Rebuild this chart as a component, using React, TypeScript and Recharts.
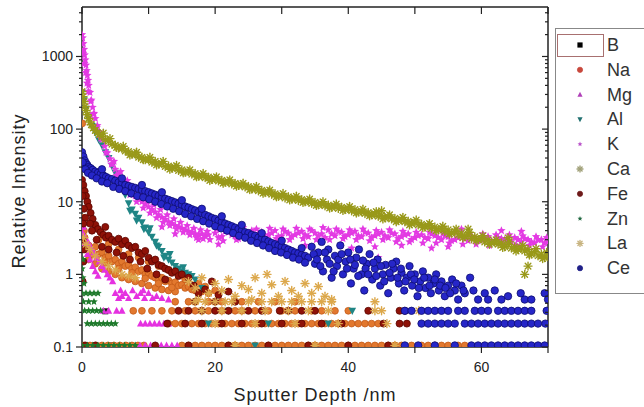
import { ScatterChart, Scatter, XAxis, YAxis } from 'recharts';

type Pt = [number, number];

const W = 644;
const H = 407;
const FONT = '"Liberation Sans", Arial, Helvetica, sans-serif';
const INK = '#222';

// axis ticks
const xTicks = [0, 10, 20, 30, 40, 50, 60, 70];
const xLabelled = [0, 20, 40, 60];
const yDecades = [0.1, 1, 10, 100, 1000];
const yMinor = [
  0.2, 0.3, 0.4, 0.5, 0.6, 0.7, 0.8, 0.9,
  2, 3, 4, 5, 6, 7, 8, 9,
  20, 30, 40, 50, 60, 70, 80, 90,
  200, 300, 400, 500, 600, 700, 800, 900,
  2000, 3000, 4000,
];

// detection floor levels seen as horizontal rows of points
const LOW1 = 0.105;
const LOW2 = 0.21;
const LOW3 = 0.315;
const LOW4 = 0.42;

// ---- values: [depth nm, relative intensity] ----
const boron: Pt[] = [[3.5, 0.31], [4.2, 0.105]];

const sodium: Pt[] = [
  [0.05, 120], [0.1, 40], [0.15, 15], [0.2, 6], [0.3, 4], [0.4, 3.2],
  [0.5, 2.8], [1, 2.5], [1.5, 2.2], [2, 2.4], [2.5, 1.9], [3, 2.0], [3.5, 1.7], [4, 1.8],
  [4.5, 1.5], [5, 1.6], [5.5, 1.4], [6, 1.5], [6.5, 1.3], [7, 1.35], [7.5, 1.2], [8, 1.25],
  [8.5, 1.1], [9, 1.15], [9.5, 1.0], [10, 1.05], [10.5, 0.95], [11, 0.9], [11.5, 0.85],
  [12, 0.9], [12.5, 0.8], [13, 0.82], [13.5, 0.75], [14, 0.78], [14.5, 0.7], [15, 0.72],
  [15.5, 0.65], [16, 0.68], [16.5, 0.62], [17, 0.6], [18, 0.58], [19, 0.55], [20, 0.6],
  [1, 1.6], [2, 1.4], [3, 1.2], [4, 1.1], [5, 1.0], [6, 0.9], [7, 0.85], [8, 0.8], [9, 0.75],
  [10, 0.7], [11, 0.65], [12, 0.62], [13, 0.6], [14, 0.58],
  [2.5, 3.0], [4, 2.6], [5.5, 2.2], [7, 1.9], [8.5, 1.7], [10, 1.5], [11.5, 1.3], [13, 1.15],
  [14.5, 1.05], [16, 0.95],
  [1.5, 1.9], [3.5, 1.45], [5.5, 1.2], [7.5, 1.05], [9.5, 0.88], [11.5, 0.75], [13.5, 0.66],
  [15.5, 0.85], [17.5, 0.75], [18.5, 0.68],
];
const sodiumLow1 = [0.3, 1.2, 2.1, 3, 3.9, 4.8, 5.7, 6.6, 7.5, 8.4, 9.3, 15, 16, 17, 18, 19, 20, 21, 22, 23, 24, 25, 26, 27, 28, 29, 30, 31, 32, 33, 34, 35, 36, 37, 38, 39, 40, 41, 42, 43, 44, 45, 46, 47, 48, 49.5, 51, 52, 53, 54, 55, 56.5, 57.5];
const sodiumLow2 = [13, 14, 15, 16.5, 17.5, 18.5, 19.5, 20.5, 21.5, 22.5, 23.5, 24.5, 25.5, 26.5, 27.5, 28.5, 29.5, 30.5, 31.5, 32.5, 33.5, 34.5, 35.5, 36.5, 37.5, 38.5, 39.5, 40.5, 41.5, 42.5, 43.5, 44.5];
const sodiumLow3 = [7.7, 9, 10.5, 12, 13.5, 15.5, 17, 19, 21, 23, 24, 26, 28, 30, 32, 34.5, 36, 38, 40];
const sodiumLow4 = [14, 16, 19, 21, 24, 26.5, 29, 32];

const magnesium: Pt[] = [
  [0.1, 5.5], [0.2, 4.5], [0, 3.8], [0.3, 3.4], [0.6, 3.0], [1, 2.7], [1.4, 2.3], [1.8, 2.0],
  [2.2, 1.7], [2.6, 1.5], [3, 1.3], [3.4, 1.15], [3.8, 1.0], [4.2, 0.9], [4.6, 0.8],
  [0.2, 2.6], [0.5, 2.2], [0.8, 1.9], [1.2, 1.6], [1.6, 1.3], [2.0, 1.1], [2.4, 0.95],
  [5, 0.55], [5.5, 0.47], [5.8, 0.6], [6, 0.5], [6.5, 0.55], [7, 0.47], [7.6, 0.6], [8.2, 0.5],
  [8.8, 0.55], [9.2, 0.6], [9.4, 0.47], [10, 0.55], [10.6, 0.47], [11.2, 0.5], [12, 0.47], [13, 0.45],
];
const magnesiumLow1 = [8.7, 9.5, 10.3, 11.1, 11.9, 12.7, 13.5, 14.3];
const magnesiumLow2 = [8.8, 9.5, 10.2, 10.9, 11.6, 12.3, 13];
const magnesiumLow3 = [3.2, 4, 5.2, 6];

const aluminium: Pt[] = [
  [0, 320], [0.3, 250], [0.6, 190], [1.0, 140], [1.5, 110], [2.0, 90], [2.5, 72], [3.0, 60],
  [3.5, 48], [4.0, 40], [4.5, 31], [5.0, 25], [5.5, 20], [6.0, 16], [6.5, 12.5], [7.0, 9.5],
  [7.5, 7.8], [8.0, 6.8], [8.5, 6.0], [9.0, 5.2], [9.5, 4.4],
  [10, 3.8], [10.5, 3.3], [11, 2.8], [11.5, 2.4], [12, 2.1], [12.5, 1.8], [13, 1.6], [13.5, 1.45],
  [14, 1.3], [14.5, 1.2], [15, 1.1], [15.5, 1.05], [16, 1.0], [16.5, 0.95],
  [7.2, 7.5], [8.2, 5.5], [9.3, 4.2], [10.2, 4.3], [11.2, 2.5], [12.3, 1.7], [13.2, 1.9],
  [14.2, 1.15], [15.2, 1.25], [16.2, 0.9], [17, 0.85], [18, 0.65],
];
const aluminiumLow1 = [26];
const aluminiumLow2 = [19, 28, 37];
const aluminiumLow3 = [22, 40.6];

const potassium: Pt[] = [
  [0, 2000], [0.1, 1800], [0.2, 1500], [0.3, 1250], [0.4, 1050], [0.5, 900], [0.6, 760],
  [0.7, 640], [0.8, 550], [0.9, 470], [1.0, 400], [1.2, 320], [1.4, 250], [1.6, 200],
  [1.8, 165], [2.0, 140], [2.3, 112], [2.6, 92], [3.0, 72], [3.4, 58], [3.8, 47], [4.2, 39],
  [4.6, 33], [5.0, 28], [5.5, 24], [6.0, 20], [6.5, 17.5], [7.0, 15], [7.5, 13.5], [8.0, 12],
  [8.5, 11], [9.0, 10], [9.5, 9.2], [10, 8.5], [10.5, 7.8], [11, 7.2], [11.5, 6.6], [12, 6.1],
  [12.5, 5.7], [13, 5.3], [13.5, 5.0], [14, 4.7], [14.5, 4.5], [15, 4.3], [15.5, 4.1], [16, 3.9],
  [16.5, 3.8], [17, 3.6], [17.5, 3.5], [18, 3.6], [18.5, 3.4], [19, 3.5],
  [0.15, 1100], [0.35, 800], [0.55, 600], [0.75, 430], [0.95, 330], [1.3, 240], [1.7, 160],
  [2.2, 105], [2.8, 75], [3.6, 48], [4.4, 33], [5.2, 23], [6.2, 16], [7.2, 12.5], [8.2, 10],
  [9.2, 8.2], [10.2, 7.0], [11.2, 6.0], [12.2, 5.2], [13.2, 4.7], [14.2, 4.2], [15.2, 3.8],
  [16.2, 3.5], [17.2, 3.2], [18.2, 3.1], [19.2, 3.0],
  [4.8, 36], [5.8, 26], [6.8, 19.5], [7.8, 15], [8.8, 12.5], [9.8, 10.5], [10.8, 9],
  [11.8, 7.8], [12.8, 6.6], [13.8, 5.8], [14.8, 5.2], [15.8, 4.7], [16.8, 4.3], [17.8, 4.1], [18.8, 3.9],
  [20, 3.7], [21, 3.3], [22, 3.8], [23, 3.4], [24, 3.9], [25, 3.5], [26, 3.3], [27, 3.8],
  [28, 3.5], [29, 4.0], [30, 3.4], [31, 3.7], [32, 3.5], [33, 3.9], [34, 3.3], [35, 3.7],
  [36, 3.6], [37, 4.1], [38, 3.4], [39, 3.8], [40, 3.5], [41, 3.9], [42, 3.3], [43, 3.7],
  [44, 3.4], [45, 3.8], [46, 3.2], [47, 3.6], [48, 3.3], [49, 3.6], [50, 3.2], [51, 3.5],
  [52, 3.1], [53, 3.4], [54, 3.0], [55, 3.3], [56, 3.0], [57, 3.4], [58, 2.9], [59, 3.2],
  [60, 3.0], [61, 3.3], [62, 2.8], [63, 3.1], [64, 2.9], [65, 3.2], [66, 2.8], [67, 3.0],
  [68, 2.7], [69, 3.0], [70, 2.8],
  [20.5, 3.2], [21.5, 3.9], [22.5, 3.5], [23.5, 3.1], [24.5, 3.6], [25.5, 4.0], [26.5, 3.6],
  [27.5, 3.2], [28.5, 3.7], [29.5, 3.3], [30.5, 3.9], [31.5, 3.3], [32.5, 3.7], [33.5, 3.5],
  [34.5, 4.0], [35.5, 3.4], [36.5, 3.2], [37.5, 3.6], [38.5, 3.9], [39.5, 3.3], [40.5, 3.7],
  [41.5, 3.4], [42.5, 3.8], [43.5, 3.2], [44.5, 3.6], [45.5, 3.4], [46.5, 3.7], [47.5, 3.1],
  [48.5, 3.5], [49.5, 3.0], [50.5, 3.4], [51.5, 3.2], [52.5, 3.6], [53.5, 3.2], [54.5, 3.4],
  [55.5, 2.9], [56.5, 3.2], [57.5, 3.1], [58.5, 3.3], [59.5, 2.9], [60.5, 3.1], [61.5, 2.9],
  [62.5, 3.2], [63.5, 3.0], [64.5, 2.8], [65.5, 3.0], [66.5, 3.1], [67.5, 2.8], [68.5, 3.0],
  [69.5, 2.7],
  [20.2, 4.2], [21.2, 2.9], [22.2, 4.3], [23.2, 3.0], [24.2, 4.4], [25.2, 3.1], [26.2, 4.2],
  [27.2, 3.0], [28.2, 4.3], [29.2, 3.1], [30.2, 4.2], [31.2, 3.0], [32.2, 4.3], [33.2, 3.1],
  [34.2, 4.2], [35.2, 3.0], [36.2, 4.4], [37.2, 3.0], [38.2, 4.2], [39.2, 3.1], [40.2, 4.1],
  [41.2, 3.0], [42.2, 4.2], [43.2, 2.9], [44.2, 4.0], [45.2, 3.0], [46.2, 4.1], [47.2, 2.8],
  [48.2, 3.9], [49.2, 2.8], [50.2, 3.8], [51.2, 2.7], [52.2, 3.8], [53.2, 2.7], [54.2, 3.7],
  [55.2, 2.7], [56.2, 3.8], [57.2, 2.6], [58.2, 3.6], [59.2, 2.6], [60.2, 3.6], [61.2, 2.5],
  [62.2, 3.5], [63.2, 2.6], [64.2, 3.5], [65.2, 2.5], [66.2, 3.4], [67.2, 2.5], [68.2, 3.3],
  [69.2, 2.4], [69.8, 3.2],
  [12, 4.5], [14, 3.6], [17.5, 3.0], [20.5, 2.6], [26, 2.9], [33.5, 2.5], [40.5, 2.3],
  [44, 2.4], [44.5, 1.7], [48, 2.5], [52.5, 2.3], [55, 2.4], [57, 4.2], [63, 4.0], [66, 3.9],
];

const calcium: Pt[] = [
  [0, 330], [0.15, 280], [0.3, 240], [0.45, 205], [0.6, 180], [0.8, 158], [1.0, 140], [1.2, 125],
  [1.4, 115], [1.7, 104], [2.0, 96], [2.3, 90], [2.6, 84], [3.0, 79], [3.5, 72], [4.0, 68],
  [4.5, 62], [5.0, 60], [5.5, 55], [6.0, 54], [6.5, 50], [7.0, 49], [7.5, 45], [8.0, 45],
  [8.5, 41], [9.0, 41], [9.5, 38], [10, 38], [10.5, 35], [11, 36], [11.5, 33], [12, 33.5],
  [12.5, 30.5], [13, 31], [13.5, 29], [14, 29.5], [14.5, 27], [15, 27.5], [15.5, 25.5], [16, 26],
  [16.5, 24], [17, 24.5], [17.5, 22.5], [18, 23], [18.5, 21.5], [19, 21.8], [19.5, 20.3],
  [20, 20.8], [20.5, 19.4], [21, 19.8], [21.5, 18.5], [22, 18.8], [22.5, 17.6], [23, 17.9],
  [23.5, 16.8], [24, 17], [24.5, 16], [25, 16.2], [25.5, 15], [26, 15.2], [26.5, 14.2],
  [27, 14.4], [27.5, 13.4], [28, 13.6], [28.5, 12.7], [29, 12.9], [29.5, 11.9], [30, 12.2],
  [30.5, 11.3], [31, 11.7], [31.5, 10.9], [32, 11.1], [32.5, 10.4], [33, 10.7], [33.5, 10],
  [34, 10.2], [34.5, 9.5], [35, 9.8], [35.5, 9.1], [36, 9.4], [36.5, 8.8], [37, 9.0],
  [37.5, 8.4], [38, 8.7], [38.5, 8.1], [39, 8.4], [39.5, 7.8], [40, 8.1], [40.5, 7.5],
  [41, 7.8], [41.5, 7.2], [42, 7.4], [42.5, 6.9], [43, 7.1], [43.5, 6.6], [44, 6.8],
  [44.5, 6.3], [45, 6.5], [45.5, 6.0], [46, 6.2], [46.5, 5.8], [47, 5.9], [47.5, 5.5],
  [48, 5.7], [48.5, 5.3], [49, 5.4], [49.5, 5.0], [50, 5.2], [50.5, 4.8], [51, 4.9],
  [51.5, 4.5], [52, 4.7], [52.5, 4.3], [53, 4.5], [53.5, 4.1], [54, 4.3], [54.5, 3.9],
  [55, 4.1], [55.5, 3.7], [56, 3.9], [56.5, 3.5], [57, 3.7], [57.5, 3.3], [58, 3.5],
  [58.5, 3.1], [59, 3.3], [59.5, 3.0], [60, 3.1], [60.5, 2.8], [61, 3.0], [61.5, 2.7],
  [62, 2.8], [62.5, 2.6], [63, 2.7], [63.5, 2.4], [64, 2.6], [64.5, 2.3], [65, 2.4],
  [65.5, 2.2], [66, 2.3], [66.5, 2.1], [67, 2.2], [67.5, 1.9], [68, 2.05], [68.5, 1.8],
  [69, 1.9], [69.5, 1.7], [70, 1.8],
  [3.2, 88], [4.2, 74], [5.2, 56], [6.2, 58], [7.2, 44], [8.2, 48], [9.2, 38], [10.2, 41],
  [11.2, 32], [12.2, 36], [13.2, 28], [14.2, 31.5], [15.2, 25], [16.2, 27.5], [17.2, 22],
  [18.2, 24.5], [19.2, 19.6], [20.2, 22], [21.2, 18], [22.2, 20], [23.2, 16.4], [24.2, 18],
  [25.2, 14.7], [26.2, 16.2], [27.2, 13.1], [28.2, 14.5], [29.2, 11.7], [30.2, 13],
  [31.2, 10.6], [32.2, 11.9], [33.2, 9.8], [34.2, 10.9], [35.2, 8.9], [36.2, 10],
  [37.2, 8.2], [38.2, 9.3], [39.2, 7.6], [40.2, 8.6], [41.2, 7.0], [42.2, 7.9], [43.2, 6.4],
  [44.2, 7.3], [45.2, 5.8], [46.2, 6.6], [47.2, 5.3], [48.2, 6.1], [49.2, 4.8], [50.2, 5.6],
  [51.2, 4.4], [52.2, 5.0], [53.2, 4.0], [54.2, 4.6], [55.2, 3.6], [56.2, 4.2], [57.2, 3.2],
  [58.2, 3.8], [59.2, 2.9], [60.2, 3.4], [61.2, 2.6], [62.2, 3.0], [63.2, 2.35], [64.2, 2.8],
  [65.2, 2.1], [66.2, 2.5], [67.2, 1.85], [68.2, 2.25], [69.2, 1.65], [69.8, 2.0],
  [66.5, 1.0], [67, 1.3], [64, 3.2], [58, 4.2], [45, 7.5],
];

const iron: Pt[] = [
  [0, 20], [0.2, 17], [0.4, 14], [0.6, 12], [0.8, 10], [1.0, 8.5], [1.3, 7], [1.6, 5.8],
  [2.0, 4.8], [2.4, 4.2], [2.8, 3.8], [3.2, 3.5], [3.6, 3.2], [4.0, 3.4], [4.5, 3.0], [5.0, 2.8],
  [5.5, 3.1], [6.0, 2.6], [6.5, 2.9], [7.0, 2.5], [7.5, 2.3], [8.0, 2.4], [8.5, 2.0], [9.0, 1.9],
  [9.5, 2.1], [10, 1.7], [10.5, 1.5], [11, 1.6], [11.5, 1.35], [12, 1.3], [12.5, 1.2], [13, 1.15],
  [13.5, 1.05], [14, 1.1], [14.5, 0.95], [15, 1.0], [16, 0.9],
  [0.1, 12], [0.3, 8], [0.5, 6], [1.5, 4], [2.2, 3], [3, 2.4], [4, 2.2], [5.2, 2.0], [6.2, 1.8],
  [7.2, 1.6], [3.5, 4.5], [1.2, 5], [8.8, 1.5], [9.8, 1.2], [11.2, 1.0], [12.5, 0.85],
  [0.1, 3], [0.2, 1.5], [0.1, 0.8], [0.3, 2.2], [0.2, 5],
  [16.8, 0.7], [17.5, 0.55], [18.5, 0.62], [19.5, 0.8], [20.5, 0.52], [22, 0.58],
];
const ironLow1 = [0.5, 2, 11, 16, 22, 28, 34, 40, 46];
const ironLow2 = [12.8, 15.5, 18, 21, 24, 27, 30, 33, 36, 39, 45.3, 47.7, 48.8];
const ironLow3 = [14.5, 16, 18, 20, 22, 25, 27, 29.7, 31, 33, 35, 43, 47.7, 48.5];
const ironLow4 = [17, 20, 23];

const zinc: Pt[] = [[0, 1.2], [0.1, 0.9], [0.3, 0.75], [0.15, 1.6], [0, 0.55], [0.6, 0.55], [1.2, 0.55], [1.8, 0.55], [2.4, 0.55]];
const zincLow1 = [0, 0.8, 1.6, 2.4, 3.2, 4.0, 4.8, 5.6, 6.4, 7.2, 8];
const zincLow2 = [0.8, 1.4, 2, 2.6, 3.2, 3.8, 4.4, 5];
const zincLow3 = [0.4, 1, 1.6, 2.2, 2.8];
const zincLow4 = [0.2, 1, 1.8];

const lanthanum: Pt[] = [
  [0.2, 3.2], [0.6, 2.6], [1.2, 2.2], [2, 1.8], [3, 1.5], [4, 1.3], [5, 1.15], [6, 1.0],
  [7, 0.95], [8, 0.9],
  [16, 0.8], [17, 0.65], [18, 0.9], [19, 0.55], [20, 0.75], [21, 0.6], [22, 0.85], [23, 0.5],
  [24, 0.7], [25, 0.62], [26, 0.9], [27, 0.55], [27.8, 1.0], [28.5, 0.72], [29.5, 0.5],
  [30.5, 0.8], [31.5, 0.6], [32.5, 0.5], [33.5, 0.75], [34.5, 0.55], [35.5, 0.68], [36.5, 0.5],
  [37.5, 0.45], [25.5, 0.45], [21.5, 0.42], [17.5, 0.45],
];
const lanthanumLow1 = [23, 35, 47];
const lanthanumLow2 = [20, 26, 32, 38.5, 45.8];
const lanthanumLow3 = [18, 21, 24, 27.5, 31, 34, 37, 44, 45, 50.6];
const lanthanumLow4 = [17, 18.5, 20, 22.5, 25, 27, 28.5, 30, 31.5, 33, 34.5, 36, 37.5, 44];

const cerium: Pt[] = [
  [0, 48], [0.2, 42], [0.4, 37], [0.6, 34], [0.8, 32], [1.0, 30], [1.3, 29], [1.6, 27.5],
  [2.0, 26], [2.4, 25], [2.8, 24], [3.2, 23], [3.6, 22], [4.0, 21], [4.5, 20.5], [5.0, 19.5],
  [5.5, 18.5], [6.0, 18], [6.5, 17], [7.0, 16.5], [7.5, 16], [8.0, 15.5], [8.5, 15], [9.0, 14.5],
  [9.5, 14], [10, 13.5], [10.5, 13], [11, 12.5], [11.5, 12], [12, 11.5], [12.5, 11], [13, 10.6],
  [13.5, 10.2], [14, 9.8], [14.5, 9.4], [15, 9.0], [15.5, 8.6], [16, 8.3], [16.5, 7.9], [17, 7.6],
  [17.5, 7.2], [18, 6.9], [18.5, 6.6], [19, 6.3], [19.5, 6.0], [20, 5.8], [20.5, 5.5], [21, 5.3],
  [21.5, 5.0], [22, 4.8], [22.5, 4.6], [23, 4.4], [23.5, 4.2], [24, 4.0], [24.5, 3.8], [25, 3.7],
  [25.5, 3.5], [26, 3.4], [26.5, 3.2], [27, 3.1], [27.5, 3.0], [28, 2.85], [28.5, 2.7], [29, 2.6],
  [29.5, 2.5], [30, 2.4], [30.5, 2.3], [31, 2.2], [31.5, 2.1], [32, 2.0], [32.5, 1.95], [33, 1.85],
  [33.5, 1.8], [34, 1.7],
  [0.1, 35], [0.5, 28], [0.9, 25], [1.5, 23], [2.2, 21], [3.0, 19], [3.8, 18], [4.7, 16],
  [5.6, 15], [6.5, 14], [7.4, 13], [8.3, 12], [9.2, 11.5], [10.1, 10.8], [11.0, 10.0], [11.9, 9.3],
  [12.8, 8.6], [13.7, 8.0], [14.6, 7.4], [15.5, 6.8], [16.4, 6.3], [17.3, 5.8], [18.2, 5.4],
  [19.1, 5.0], [20, 4.6], [20.9, 4.3], [21.8, 4.0], [22.7, 3.7], [23.6, 3.4], [24.5, 3.2],
  [25.4, 2.9], [26.3, 2.7], [27.2, 2.5], [28.1, 2.3], [29.0, 2.1], [29.9, 2.0], [30.8, 1.85],
  [31.7, 1.7], [32.6, 1.6], [33.5, 1.45],
  [3, 28], [6, 21], [9, 17], [12, 13.5], [15, 10.5], [18, 8], [21, 6.3], [24, 4.8], [27, 3.7],
  [30, 2.9], [33, 2.3],
  [34.5, 2.4], [35, 1.4], [35.5, 2.0], [36, 2.8], [36.2, 1.1], [36.8, 1.6], [37, 2.2], [37.5, 0.9],
  [38, 1.8], [38.3, 1.3], [38.8, 2.5], [39.2, 1.0], [39.6, 1.5], [40, 2.0], [40.4, 0.75],
  [40.8, 1.2], [41.2, 1.7], [41.6, 2.2], [42, 1.0], [42.4, 0.6], [42.8, 1.4], [43.2, 1.9],
  [43.6, 0.85], [44, 1.2], [44.4, 1.6], [44.8, 0.7], [45.2, 1.0], [45.6, 1.35], [46, 0.55],
  [46.4, 0.9], [46.8, 1.2], [47.2, 1.5], [47.6, 0.75], [48, 1.05], [48.4, 0.6], [48.8, 0.9],
  [49.2, 1.3], [49.6, 0.7], [50, 1.0], [50.4, 0.5], [50.8, 0.8], [51.2, 1.1], [51.6, 0.65],
  [52, 0.9], [52.4, 0.55], [52.8, 0.75], [53.2, 1.0], [53.6, 0.6], [54, 0.8], [54.5, 0.5],
  [55, 0.7], [55.6, 0.85], [56, 0.6], [56.5, 0.45], [57, 0.7], [57.5, 0.55], [58.3, 0.9],
  [58.8, 0.6], [59.5, 0.45], [60.5, 0.55], [61, 0.45], [62, 0.6], [63, 0.45], [64, 0.5],
  [65.9, 0.55], [66.5, 0.45], [67.5, 0.45], [69.5, 0.55], [70, 0.45],
  [34.8, 1.9], [35.3, 1.6], [35.8, 1.3], [36.5, 2.0], [37.2, 1.4], [37.8, 1.1], [38.5, 1.6],
  [39, 1.9], [39.8, 1.2], [40.3, 1.6], [41, 1.35], [41.5, 0.95], [42.2, 1.55], [42.6, 1.2],
  [43, 1.0], [43.8, 1.45], [44.2, 0.95], [44.9, 1.3], [45.4, 0.8], [46.2, 1.05], [46.6, 1.4],
  [47.4, 0.9], [47.9, 1.2], [48.6, 0.8], [49.4, 1.0], [49.9, 0.85], [50.6, 0.65], [51.4, 0.9],
  [52.2, 0.7], [53, 0.85], [53.8, 0.7], [54.6, 0.65], [55.3, 0.55], [56.2, 0.75], [57.3, 0.6],
];
const ceriumLow1 = [48.5, 50.5, 53, 56, 58.5, 59.5, 60.5, 61.5, 62.5, 63.5, 64.5, 65.5, 66.5, 67.5, 68.5, 69.5];
const ceriumLow2 = [51, 52, 53, 54, 55, 56, 57.5, 58.5, 59.5, 60.5, 61.5, 62.5, 63.5, 64.5, 65.5, 66.5, 67.5, 68.5, 69.6];
const ceriumLow3 = [48.5, 49.5, 51, 52, 53, 54, 55, 56.5, 57.5, 59, 60, 61, 62.5, 63.5, 64.5, 65.5, 66.5, 67.5, 69.8];

const row = (xs: number[], level: number): Pt[] => xs.map((x) => [x, level]);

type Kind = 'square' | 'circle' | 'tri' | 'dtri' | 'star' | 'aster';

interface Series {
  name: string;
  points: Pt[];
  kind: Kind;
  color: string;
  edge?: string;
  size: number;
  legendColor: string;
}

// drawn in legend order, later ones on top
const SERIES: Series[] = [
  { name: 'B', points: boron, kind: 'square', color: '#111', size: 3, legendColor: '#000' },
  {
    name: 'Na',
    points: [...sodium, ...row(sodiumLow1, LOW1), ...row(sodiumLow2, LOW2), ...row(sodiumLow3, LOW3), ...row(sodiumLow4, LOW4)],
    kind: 'circle', color: '#e2782e', edge: '#c45a18', size: 3.4, legendColor: '#c8483c',
  },
  {
    name: 'Mg',
    points: [...magnesium, ...row(magnesiumLow1, LOW1), ...row(magnesiumLow2, LOW2), ...row(magnesiumLow3, LOW3)],
    kind: 'tri', color: '#e531e0', size: 3.6, legendColor: '#b040b8',
  },
  {
    name: 'Al',
    points: [...aluminium, ...row(aluminiumLow1, LOW1), ...row(aluminiumLow2, LOW2), ...row(aluminiumLow3, LOW3)],
    kind: 'dtri', color: '#1f8585', size: 3.8, legendColor: '#207070',
  },
  { name: 'K', points: potassium, kind: 'star', color: '#e33ae3', size: 4.4, legendColor: '#b850c8' },
  { name: 'Ca', points: calcium, kind: 'aster', color: '#99991a', size: 4, legendColor: '#a0a078' },
  {
    name: 'Fe',
    points: [...iron, ...row(ironLow1, LOW1), ...row(ironLow2, LOW2), ...row(ironLow3, LOW3), ...row(ironLow4, LOW4)],
    kind: 'circle', color: '#8e1208', edge: '#5c0500', size: 3.5, legendColor: '#6e1a1a',
  },
  {
    name: 'Zn',
    points: [...zinc, ...row(zincLow1, LOW1), ...row(zincLow2, LOW2), ...row(zincLow3, LOW3), ...row(zincLow4, LOW4)],
    kind: 'star', color: '#1f7a2c', size: 4, legendColor: '#206840',
  },
  {
    name: 'La',
    points: [...lanthanum, ...row(lanthanumLow1, LOW1), ...row(lanthanumLow2, LOW2), ...row(lanthanumLow3, LOW3), ...row(lanthanumLow4, LOW4)],
    kind: 'aster', color: '#dca84c', size: 4, legendColor: '#c8b480',
  },
  {
    name: 'Ce',
    points: [...cerium, ...row(ceriumLow1, LOW1), ...row(ceriumLow2, LOW2), ...row(ceriumLow3, LOW3)],
    kind: 'circle', color: '#2626c8', edge: '#0c0c70', size: 3.7, legendColor: '#202088',
  },
];

function Mark({ cx, cy, kind, color, edge, s }: { cx?: number; cy?: number; kind: Kind; color: string; edge?: string; s: number }) {
  if (cx == null || cy == null || !isFinite(cx) || !isFinite(cy)) return <g />;
  switch (kind) {
    case 'square':
      return <rect x={cx - s} y={cy - s} width={2 * s} height={2 * s} fill={color} />;
    case 'circle':
      return <circle cx={cx} cy={cy} r={s} fill={color} stroke={edge ?? color} strokeWidth={0.8} />;
    case 'tri':
      return <polygon points={`${cx},${cy - s * 1.1} ${cx + s},${cy + s * 0.8} ${cx - s},${cy + s * 0.8}`} fill={color} />;
    case 'dtri':
      return <polygon points={`${cx},${cy + s * 1.1} ${cx + s},${cy - s * 0.8} ${cx - s},${cy - s * 0.8}`} fill={color} />;
    case 'star': {
      const pts: string[] = [];
      for (let i = 0; i < 10; i++) {
        const r = i % 2 === 0 ? s : s * 0.45;
        const a = -Math.PI / 2 + (i * Math.PI) / 5;
        pts.push(`${cx + r * Math.cos(a)},${cy + r * Math.sin(a)}`);
      }
      return <polygon points={pts.join(' ')} fill={color} />;
    }
    case 'aster': {
      const d = s * 0.7;
      return (
        <g stroke={color} strokeWidth={1.4} strokeLinecap="round">
          <line x1={cx - s} y1={cy} x2={cx + s} y2={cy} />
          <line x1={cx} y1={cy - s} x2={cx} y2={cy + s} />
          <line x1={cx - d} y1={cy - d} x2={cx + d} y2={cy + d} />
          <line x1={cx - d} y1={cy + d} x2={cx + d} y2={cy - d} />
        </g>
      );
    }
  }
  return <g />;
}

const isDecade = (v: number) => yDecades.includes(v);

const LeftTick = ({ x, y, payload }: any) => {
  const major = isDecade(payload.value);
  const len = major ? 6 : 3;
  return (
    <g>
      <line x1={x} x2={x - len} y1={y} y2={y} stroke={INK} strokeWidth={1.2} />
      {major && (
        <text x={x - 9} y={y} textAnchor="end" dominantBaseline="central" fontSize={14} fontFamily={FONT} fill={INK}>
          {payload.value}
        </text>
      )}
    </g>
  );
};

const RightTick = ({ x, y, payload }: any) => {
  const len = isDecade(payload.value) ? 6 : 3;
  return <line x1={x} x2={x - len} y1={y} y2={y} stroke={INK} strokeWidth={1.2} />;
};

const BottomTick = ({ x, y, payload }: any) => (
  <g>
    <line x1={x} x2={x} y1={y} y2={y + 6} stroke={INK} strokeWidth={1.2} />
    {xLabelled.includes(payload.value) && (
      <text x={x} y={y + 20} textAnchor="middle" dominantBaseline="central" fontSize={14} fontFamily={FONT} fill={INK}>
        {payload.value}
      </text>
    )}
  </g>
);

const TopTick = ({ x, y }: any) => <line x1={x} x2={x} y1={y} y2={y + 7} stroke={INK} strokeWidth={1.2} />;

function LegendBox() {
  const top = 45;
  const step = 24.8;
  return (
    <svg width={W} height={H} style={{ position: 'absolute', left: 0, top: 0, pointerEvents: 'none' }}>
      <rect x={555.5} y={28.5} width={110} height={265} fill="#fff" stroke="#888" strokeWidth={1} />
      <rect x={557.5} y={34.5} width={46} height={22} fill="none" stroke="#a87070" strokeWidth={1} />
      {SERIES.map((s, i) => (
        <g key={s.name}>
          <Mark cx={580} cy={top + i * step} kind={s.kind} color={s.legendColor} s={s.kind === 'aster' ? 3 : 2.6} />
          <text x={607} y={top + i * step} dominantBaseline="central" fontSize={18} fontFamily={FONT} fill="#333">
            {s.name}
          </text>
        </g>
      ))}
      <text x={315} y={401} textAnchor="middle" fontSize={18} letterSpacing={1} fontFamily={FONT} fill={INK}>
        Sputter Depth /nm
      </text>
      <text
        x={25}
        y={191}
        textAnchor="middle"
        fontSize={18}
        letterSpacing={1}
        fontFamily={FONT}
        fill={INK}
        transform="rotate(-90 25 191)"
      >
        Relative Intensity
      </text>
    </svg>
  );
}

const frameData = calcium.map(([x, y]) => ({ x, y }));

export default function App() {
  const yTicks = [...yDecades, ...yMinor].sort((a, b) => a - b);
  return (
    <div style={{ position: 'absolute', left: 0, top: 0, width: W, height: H, background: '#fff', overflow: 'hidden' }}>
      <ScatterChart width={W} height={H} margin={{ top: 6, right: 95, bottom: 0, left: 0 }}>
        <XAxis
          dataKey="x"
          type="number"
          domain={[0, 70]}
          allowDataOverflow
          ticks={xTicks}
          interval={0}
          height={60}
          tickSize={0}
          tickMargin={0}
          tickLine={false}
          tick={<BottomTick />}
          axisLine={{ stroke: INK, strokeWidth: 1.5 }}
        />
        <XAxis
          xAxisId="top"
          dataKey="x"
          orientation="top"
          type="number"
          domain={[0, 70]}
          allowDataOverflow
          ticks={xTicks}
          interval={0}
          height={1}
          tickSize={0}
          tickMargin={0}
          tickLine={false}
          tick={<TopTick />}
          axisLine={{ stroke: INK, strokeWidth: 1.5 }}
        />
        <YAxis
          dataKey="y"
          type="number"
          scale="log"
          domain={[0.1, 4800]}
          allowDataOverflow
          ticks={yTicks}
          interval={0}
          width={82}
          tickSize={0}
          tickMargin={0}
          tickLine={false}
          tick={<LeftTick />}
          axisLine={{ stroke: INK, strokeWidth: 1.5 }}
        />
        <YAxis
          yAxisId="right"
          dataKey="y"
          orientation="right"
          type="number"
          scale="log"
          domain={[0.1, 4800]}
          allowDataOverflow
          ticks={yTicks}
          interval={0}
          width={1}
          tickSize={0}
          tickMargin={0}
          tickLine={false}
          tick={<RightTick />}
          axisLine={{ stroke: INK, strokeWidth: 1.5 }}
        />
        {/* invisible series so the mirrored frame axes get a scale */}
        <Scatter
          data={frameData}
          xAxisId="top"
          yAxisId="right"
          isAnimationActive={false}
          legendType="none"
          shape={() => <g />}
        />
        {SERIES.map((s) => (
          <Scatter
            key={s.name}
            name={s.name}
            data={s.points.map(([x, y]) => ({ x, y }))}
            isAnimationActive={false}
            shape={(p: any) => <Mark cx={p.cx} cy={p.cy} kind={s.kind} color={s.color} edge={s.edge} s={s.size} />}
          />
        ))}
      </ScatterChart>
      <LegendBox />
    </div>
  );
}
